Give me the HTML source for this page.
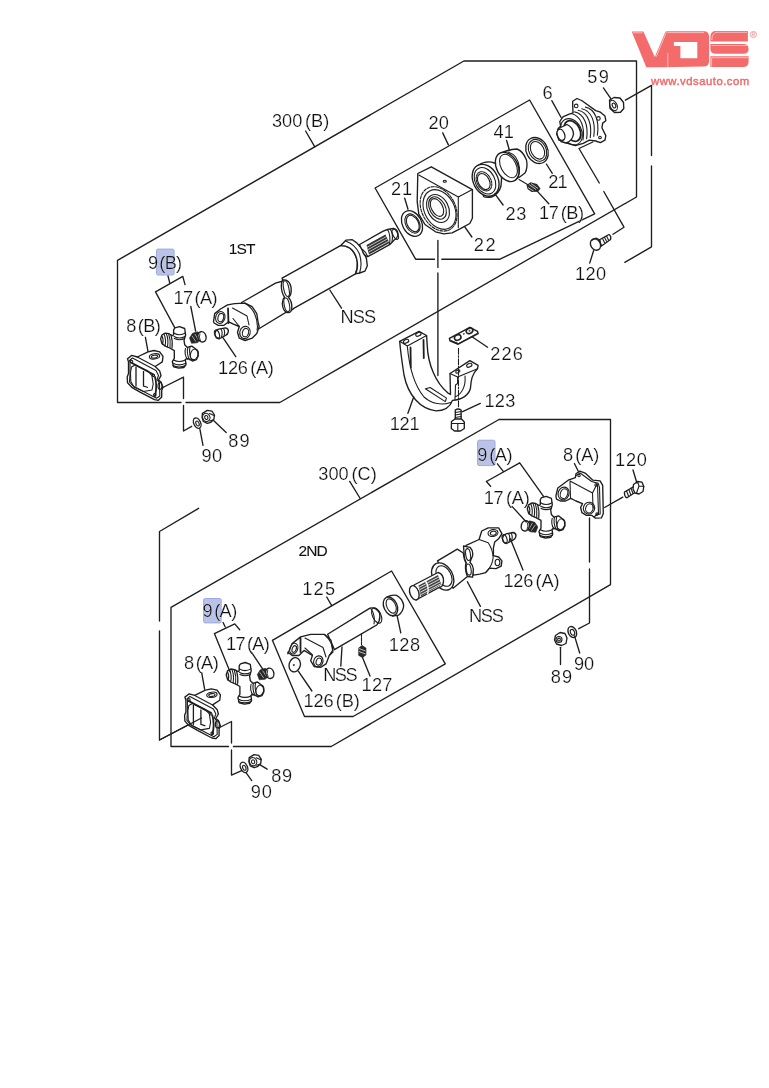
<!DOCTYPE html>
<html><head><meta charset="utf-8">
<style>
html,body{margin:0;padding:0;background:#fff;width:769px;height:1088px;overflow:hidden}
svg{position:absolute;left:0;top:0}
text{font-family:"Liberation Sans",sans-serif;fill:#111}
.t,.s{will-change:transform}
.s text{stroke:#111;stroke-width:0.1px}
.t text{stroke:#fff;stroke-width:0.2px}
.t{font-size:18.2px;letter-spacing:0.3px;word-spacing:-2.4px}
.s{font-size:15.5px;letter-spacing:-0.9px}
.ln{fill:none;stroke:#1e1e1e;stroke-width:1.35;stroke-linejoin:round;stroke-linecap:round}
.ln1{fill:none;stroke:#1e1e1e;stroke-width:1.1;stroke-linejoin:round;stroke-linecap:round}
.ln2{fill:none;stroke:#1e1e1e;stroke-width:1.8;stroke-linejoin:round;stroke-linecap:round}
.pt{fill:#fff;stroke:#1e1e1e;stroke-width:1.35;stroke-linejoin:round}
.hl{fill:#b9c3e8;stroke:#a0aade;stroke-width:1}
</style></head><body>
<svg width="769" height="1088" viewBox="0 0 769 1088">
<g fill="#f36b6b">
<path d="M631.7,31.6 L643.4,31.6 L654.8,57 L665.5,31.6 L668,31.2 L704,31.2 Q709.1,31.2 709.1,37 L709.1,61 Q709.1,66.6 703.5,66.6 L663.1,67.2 L646.3,67.2 Z M673.9,41.9 L697.3,41.9 L697.3,58.3 L680.4,58.3 L680.4,46.1 L673.9,46.1 Z" fill-rule="evenodd"/>
<path d="M716,30.9 L747.9,30.9 L747.9,41.6 L710.4,41.6 L710.4,36.6 Q710.4,30.9 716,30.9 Z"/>
<path d="M710.4,44.1 L743.5,44.1 Q748.6,44.1 748.6,49 Q748.6,53.8 743.5,53.8 L716,53.8 Q710.4,53.8 710.4,48.5 Z"/>
<path d="M710.4,56.3 L748.6,56.3 L748.6,61.5 Q748.6,67 743,67 L710.4,67 Z"/>
</g>
<g fill="none" stroke="#fff" stroke-width="0.6" opacity="0.9">
<path d="M633,32.8 L642.6,32.8"/>
<path d="M666.4,32 L656.1,56.9"/>
<path d="M667.5,32.6 L704,32.6"/>
<path d="M667.8,53 L667.8,67.2"/>
<path d="M681.6,47 L681.6,57 L696,57"/>
<path d="M711.8,40 Q712,32.5 717,32.3 L747,32.3 M711.6,45.5 L747,45.5 M711.5,57.7 L748,57.7 M711.6,58 L711.6,66.5"/>
</g>
<circle cx="753.4" cy="34.5" r="3.1" fill="none" stroke="#f36b6b" stroke-width="0.6"/>
<path d="M752.3,36.6 L752.3,32.6 L753.8,32.6 Q755,32.7 755,33.7 Q755,34.7 753.6,34.7 L752.3,34.7 M753.6,34.7 L755,36.6" fill="none" stroke="#f36b6b" stroke-width="0.5"/>
<g style="will-change:transform"><text x="651" y="85" font-size="11.3" style="fill:#ef6c6c;stroke:#ef6c6c;stroke-width:0.45px" textLength="98.2" lengthAdjust="spacing">www.vdsauto.com</text></g>
<g class="ln">
<path d="M117.5,402.5 L181,402.5 M186,402.5 L279.8,402.5 L636.5,197 L636.5,61 L463.9,61 L117.5,260.4 L117.5,402.5"/>
<path d="M625.4,100.2 L651.5,85.4 L651.5,155.6 M651.5,166 L651.5,246.8 L624.8,262.4"/>
<path d="M171,746.5 L171,607.3 L499,419.5 L610.5,419.5 L610.5,584.6 L331.2,746.5 L233.5,746.5 M228.5,746.5 L171,746.5"/>
<path d="M198.6,508.3 L159.5,531.5 L159.5,621 M159.5,631 L159.5,740 L199.7,718.9"/>
<path d="M500,259.2 L594.7,213.8 L529.6,100 L375.1,188 L415.6,259.2 L434.5,259.2 M441.8,259.2 L500,259.2"/>
<path d="M272.4,640.3 L391.6,571 L445.3,663.8 L353.1,716.5 L304.5,716.5 L272.4,640.3"/>
</g>
<!-- ===== 1ST section parts ===== -->
<defs>
<g id="cross">
<path class="pt" d="M173.6,329.8 L174.9,327.9 L179.5,326.6 L184.7,328.5 L185.6,335 L184,340.2 L184.7,344.8 L187.3,347.4 L191.8,346.1 L194.4,348 L197.7,351.3 L198.3,355.8 L196.4,359.7 L192.5,361 L189.2,359.1 L186.6,358.4 L185.3,359.7 L186,364.3 L184,367.5 L178.8,368.2 L173.6,366.9 L172.3,361.7 L174.3,358.4 L174.3,350.6 L169.7,348 L165.2,346.1 L161.9,343.5 L160.6,338.9 L161.9,335 L165.2,333.1 L169.1,333.7 L172.3,335.7 L173.6,335 Z"/>
<path class="ln1" d="M173.8,333 Q179.5,336.5 185.4,333 M174,336.5 Q179.5,339.5 185,336.5 M174.3,338.6 Q179.5,341 184.6,338.6"/>
<path class="ln1" d="M164,334 Q166.5,340 165,345.8 M166.3,333.5 Q168.8,340 167.5,346.8 M168.6,333.8 Q171,340.5 170,347.5 M170.8,334.8 Q173,341 172,348.3"/>
<path class="ln1" d="M185.5,348.5 Q184,354 187.3,359.3 M187.8,347.5 Q186.3,353.3 189.5,359.8 M190,346.8 Q188.5,353 191.8,360.5"/>
<ellipse class="ln1" cx="194.3" cy="354.3" rx="3.8" ry="5.4" transform="rotate(20 194.3 354.3)"/>
<path class="ln1" d="M173.5,360 Q179,363 185.5,360 M173,363.3 Q179,366.5 185.8,363.3 M172.8,365.5 Q179,368.5 185.8,365.5"/>
<path class="ln1" d="M162,336 Q164,340 162.5,344.5"/>
</g>
<g id="yokeB">
<path class="pt" d="M127.5,358.7 L131.8,355.4 L137.3,357 L148,351.8 L153.9,350.5 L159.7,351.8 L163,356.4 L162.3,361.9 L157.1,365.2 L155.2,366.5 L159.7,371 L161,375.6 L158.4,380.1 L161,382.1 L163,387.3 L161.7,390.5 L161.7,397 L158.4,400.3 L154.5,399.6 L139.6,391.8 L131.8,387.3 L127.5,382.7 L127.2,376.9 L128.5,373.6 L128.5,361.9 Z"/>
<path class="ln1" d="M129.5,360.5 L132.5,358 L156,370.5 L158.5,375.5 L157,379.5 L159.5,383 L159.8,396 L156.5,398.3 L133,386 L129.5,382 L130,374 L130,362 Z"/>
<ellipse class="ln1" cx="154.5" cy="356.4" rx="5.2" ry="2.6" transform="rotate(-8 154.5 356.4)"/>
<ellipse class="ln1" cx="154.5" cy="356.6" rx="3.2" ry="1.4" transform="rotate(-8 154.5 356.6)"/>
<path class="ln2" d="M131,362.5 L153.5,374.5"/>
<path class="ln1" d="M137.3,357 L155.2,366.5"/>
<path class="ln1" d="M131.5,367 L135,365 L148,371 L151.9,375.6 L153.2,384 L152,390 L143.5,391.5 L134,387 L130.8,381.4 L130.5,372.3 Z"/>
<path d="M136,366.5 L136,386.5 M143.5,371 L143.5,386 L148,387.5" fill="none" stroke="#1e1e1e" stroke-width="1.3"/>
<path class="ln2" d="M155,377 Q157.5,386 155,396"/>
<circle class="ln1" cx="154.8" cy="394.8" r="1.3"/>
<circle class="ln1" cx="131.5" cy="361.5" r="1.3"/>
<circle class="ln1" cx="153.5" cy="375.5" r="1.1"/>
<ellipse class="ln1" cx="160" cy="386" rx="2" ry="3.5"/>
</g>
<g id="nipple">
<path d="M189.5,338 L192.5,333.3 L197.5,331.8 L201,334 L200.7,340 L197.2,342.8 L191.5,343.3 Z" fill="#262626" stroke="#262626" stroke-width="0.6"/>
<path d="M192,335.8 L195.8,341.5 M194.8,334 L198.5,340" stroke="#fff" stroke-width="0.7" opacity="0.85"/>
<ellipse cx="202" cy="336.8" rx="4" ry="5.2" transform="rotate(-15 202 336.8)" fill="#fff" stroke="#1e1e1e" stroke-width="1.4"/>
<path d="M200,333.5 Q198.5,337 200.5,341" fill="none" stroke="#1e1e1e" stroke-width="0.9"/>
</g>
</defs>

<use href="#yokeB"/>
<use href="#cross"/>
<use href="#nipple"/>

<!-- pin 126(A) -->
<path class="pt" d="M214.9,333.5 Q215.5,330 218.5,329.2 L225.5,327.8 Q228.6,328.5 228.4,331.5 Q227.8,334.5 225.5,335.5 L219,338.8 Q215.2,338.5 214.9,333.5 Z"/>
<ellipse class="ln1" cx="217" cy="334" rx="2.2" ry="4.3" transform="rotate(-20 217 334)"/>
<path class="ln1" d="M221,329 Q223,332 221.5,337 M223.5,328.5 Q225.5,331.5 224,336"/>

<!-- shaft 1ST: yoke + tube -->
<path class="pt" d="M241.6,302.5 L275.5,283.2 L283,281 L291.5,309 L256.8,330 L250,325 Z"/>
<path class="pt" d="M213.5,321.8 L214.7,313.6 L220.5,309 L227.6,304.8 L234.6,303.7 L245.1,303.1 L252.1,306.6 L256.8,313.6 L258,321.8 L259.2,326.5 L256.8,333.5 L252.1,338.2 L245.1,340.5 L239.3,338.2 L237.5,332.3 L239.3,326.5 L233.4,324.2 L228.7,321.8 L224,325.3 L218.2,325.3 L214.1,323 Z"/>
<ellipse class="ln1" cx="220.3" cy="317.5" rx="4.6" ry="6" transform="rotate(15 220.3 317.5)"/>
<ellipse class="ln1" cx="220.8" cy="317.6" rx="2.8" ry="4.2" transform="rotate(15 220.8 317.6)"/>
<ellipse class="ln1" cx="245" cy="332.5" rx="5.2" ry="6.2" transform="rotate(15 245 332.5)"/>
<ellipse class="ln1" cx="245.5" cy="332.6" rx="3.1" ry="4.3" transform="rotate(15 245.5 332.6)"/>
<path class="ln2" d="M228,308.5 L228.5,323"/>
<path class="ln1" d="M232.5,308 L247,316 L249,325 M233,318.5 L239,326"/>
<path class="ln1" d="M244.5,303 Q257,310 257.5,327 L257,330"/>
<!-- break symbol at tube joint / main tube 2 -->
<path class="pt" d="M282.1,278.1 L340.5,245.7 C344.5,245.5 349,246.8 352.5,250.5 C358.5,258 358.5,268 355.5,273.8 L294.6,307.8 Q291,311 290.5,310 Z"/>
<path class="pt" d="M283.5,280 Q289,279 291,287 Q292,295 288.5,297.5 Q292,301 291.8,308 Q291.5,313.5 287,312.5 Q282.8,311 282.3,303.5 Q282.5,299 284.5,297 Q281.5,293 281.3,286 Q281.5,280.5 283.5,280 Z"/>
<ellipse class="ln1" cx="286.3" cy="288.6" rx="2.6" ry="8" transform="rotate(-12 286.3 288.6)"/>
<ellipse class="ln1" cx="286.8" cy="304.8" rx="2.6" ry="7" transform="rotate(-12 286.8 304.8)"/>
<!-- collar -->
<path class="pt" d="M340.5,245.7 L345.9,240.2 L352.3,239.7 L356.8,242.9 L362.3,249.3 L366.4,258.4 L367.3,265.7 L365,271.1 L359.6,273 L355.5,273.8 C358.5,268 358.5,258 352.5,250.5 C349,246.8 344.5,245.5 340.5,245.7 Z"/>
<path class="ln1" d="M345.5,241 Q355,244 359.5,254 Q362.5,264 359.6,273"/>

<!-- spline -->
<path class="pt" d="M359.5,244.5 L383.2,231.1 L387.5,229.5 L393.5,228.3 Q397.5,229 398,234 Q397.5,238.5 394,240.2 L389.6,244.7 L367.8,256.6 Q363.5,255.5 362.5,251 Z"/>
<path d="M366.5,245 L385.5,234.5 L389.5,243 L369,254.5 Z" fill="#333"/>
<path d="M367,247.3 L387,236.3 M368,249.6 L388,238.6 M369,251.9 L389,240.9" stroke="#fff" stroke-width="0.7"/>
<path class="ln1" d="M387.5,229.5 Q391,235 389.5,244.5 M390.3,229 Q393.5,234.5 392,242"/>
<ellipse class="ln1" cx="395.3" cy="234.3" rx="2.4" ry="5.4" transform="rotate(-25 395.3 234.3)"/>
<path class="ln1" d="M362.3,249.3 Q366,252 367.8,256.6"/>

<!-- ring 21 left -->
<ellipse class="pt" cx="412" cy="223.5" rx="9.6" ry="13.6" transform="rotate(-28 412 223.5)"/>
<ellipse class="ln1" cx="412.5" cy="223.5" rx="6.8" ry="10.2" transform="rotate(-28 412.5 223.5)"/>
<ellipse class="ln1" cx="412.8" cy="223.5" rx="5.6" ry="8.8" transform="rotate(-28 412.8 223.5)"/>

<!-- block 22 -->
<path class="pt" d="M417.8,173.5 L431.3,166.8 L472.4,189.6 L472.4,218.3 L469.8,223.5 L460.4,228.7 L452.1,232.8 L443.8,233.9 L435.5,231.8 L425,224.5 L418.8,214.1 L417.2,201.6 Z"/>
<path class="ln1" d="M418.8,175.1 L458.3,196.9 L472.4,189.6 M458.3,196.9 L458.3,227.6"/>
<ellipse class="ln1" cx="444.8" cy="181.3" rx="1.6" ry="1" />
<ellipse class="ln1" cx="438.6" cy="208.9" rx="16.8" ry="23.5" transform="rotate(-28 438.6 208.9)" stroke-dasharray="3 1.3"/>
<ellipse class="ln1" cx="439.5" cy="209.5" rx="15" ry="21" transform="rotate(-28 439.5 209.5)"/>
<ellipse class="ln1" cx="438" cy="208.5" rx="10.4" ry="14.8" transform="rotate(-28 438 208.5)"/>
<ellipse class="ln1" cx="437.5" cy="208" rx="7.8" ry="12" transform="rotate(-28 437.5 208)"/>
<ellipse class="ln1" cx="437" cy="207.5" rx="5.6" ry="9.6" transform="rotate(-28 437 207.5)"/>

<!-- bearing 23 -->
<path class="pt" d="M478,165.5 Q486,160 494.5,163 L497.5,164.5 Q503,170 501,186 Q499,194 491.5,197 Q486,198 483.5,196.5 Z"/>
<ellipse class="pt" cx="485.6" cy="180.3" rx="12.3" ry="16.8" transform="rotate(-28 485.6 180.3)"/>
<ellipse class="ln1" cx="485" cy="180.8" rx="9.8" ry="14" transform="rotate(-28 485 180.8)"/>
<ellipse class="ln1" cx="484" cy="181.3" rx="7" ry="10.2" transform="rotate(-28 484 181.3)" stroke-dasharray="2 1"/>
<ellipse class="ln1" cx="483.8" cy="181.5" rx="5.6" ry="8.6" transform="rotate(-28 483.8 181.5)"/>

<!-- ring 41 -->
<path class="pt" d="M498.5,155.5 Q503,151 512,149.5 L517,149 Q523,151 526.5,160 Q528,168 525,173 L519,177.5 Q512,181 509,181.5 Z"/>
<ellipse class="pt" cx="507.2" cy="166.9" rx="10.6" ry="15.6" transform="rotate(-28 507.2 166.9)"/>
<ellipse class="ln1" cx="508.5" cy="166" rx="7.6" ry="12.6" transform="rotate(-28 508.5 166)"/>
<path class="ln1" d="M508,152 Q518,155 519.5,168 Q520,176 515.5,180"/>

<!-- ring 21 right -->
<ellipse class="pt" cx="537" cy="150.5" rx="10.6" ry="13.6" transform="rotate(-28 537 150.5)"/>
<ellipse class="ln1" cx="537.5" cy="150.3" rx="8.6" ry="11.4" transform="rotate(-28 537.5 150.3)"/>
<ellipse class="ln1" cx="537.5" cy="150.3" rx="6.4" ry="9.4" transform="rotate(-28 537.5 150.3)"/>

<!-- nipple 17(B) -->
<path d="M526.5,185 L530.5,182.3 L537,184 L540.5,188.5 L538,191.8 L531.5,192 L527.5,189 Z" fill="#2a2a2a"/>
<path d="M529,184.5 L536,189.5 M531,183.5 L538,188.5 M528,187.5 L533.5,191" stroke="#fff" stroke-width="0.7"/>
<path class="ln1" d="M519,179.5 L527.5,184.5"/>

<!-- part 6 -->
<path class="pt" d="M572.7,101.2 L577,98.5 L581.6,100.5 L584.8,102.8 L595.7,110.6 L600.4,112.2 L605,116.1 L605.8,120.7 L602.7,123.1 L601.9,127.8 L605.8,135.6 L605,140.2 L600.4,142.6 L595.7,141 L589.4,140.2 L583.2,143.4 L575.4,145.7 L567.6,143.4 L564.5,141.8 L559,140.2 L556.7,134 L558.2,128.5 L560.6,126.2 L559.8,121.5 L562.9,116.8 L569.2,114.1 L573.1,112.9 L572.7,106.7 Z"/>
<circle class="ln1" cx="576.2" cy="105.9" r="1.8"/>
<circle class="ln1" cx="598.4" cy="118.4" r="1.8"/>
<circle class="ln1" cx="600" cy="137.5" r="1.3"/>
<path class="ln1" d="M571.0,113.5 C581.0,115.5 585.0,127.5 583.0,140.0 M574.6,111.9 C584.6,113.9 588.6,125.9 586.6,138.8 M578.2,110.3 C588.2,112.3 592.2,124.3 590.2,137.6 M581.8,108.7 C591.8,110.7 595.8,122.7 593.8,136.4 M585.4,107.1 C595.4,109.1 599.4,121.1 597.4,135.2"/>
<ellipse class="ln1" cx="571.5" cy="131.7" rx="10" ry="13.8" transform="rotate(-28 571.5 131.7)"/>
<ellipse class="ln2" cx="572.5" cy="131" rx="7.4" ry="11" transform="rotate(-28 572.5 131)"/>
<path class="pt" d="M558.5,128.5 L567,124.5 Q573,127 573.5,134 Q572.5,141 566,143 L561,141.5 Z"/>
<ellipse class="pt" cx="561" cy="134.8" rx="3.6" ry="5.8" transform="rotate(-20 561 134.8)"/>

<!-- nut 59 -->
<path class="pt" d="M609.5,100 L614,97.5 L620,98 L623.5,102.5 L623.8,108.5 L620.5,112.3 L614.5,112.5 L610,108.5 Z"/>
<ellipse class="ln1" cx="613.5" cy="105.5" rx="3.5" ry="5.5" transform="rotate(-25 613.5 105.5)"/>
<ellipse class="ln1" cx="614" cy="105.5" rx="1.6" ry="2.6" transform="rotate(-25 614 105.5)"/>

<!-- bolt 120 (1ST) -->
<path class="pt" d="M599,240 L609,234.5 Q611.5,236 610.5,239.5 L601.5,246 Z"/>
<path class="ln1" d="M602.5,238.5 L604.5,242.5 M604.5,237.3 L606.5,241.3 M606.5,236.1 L608.5,240.1"/>
<ellipse class="pt" cx="595.5" cy="244.5" rx="4.8" ry="6" transform="rotate(-30 595.5 244.5)"/>
<path class="ln1" d="M591.5,240.5 L596,238 L600,240 L601,245.5"/>

<!-- bracket 121 -->
<path class="pt" d="M399.7,341.3 L419,331.4 L426.6,335.5 L427.2,345.4 C428,365 436,383 447.7,392.8 L450.5,394.5 L450,373.5 L469.9,360.6 L478.1,365.3 L477.5,368.8 C472,374 471,380 470.5,388 C469,395 462,400 452.4,400.4 C450,407 444,410.8 436,410.8 C420,409 408,395 404,375 C402,362 400.5,352 399.7,341.3 Z"/>
<path class="ln1" d="M399.7,341.3 L407.3,346 L426.6,335.5 M407.3,346 C409,365 414,385 424,397 C432,404 442,405.5 450.5,402.5"/>
<path class="ln1" d="M450,373.5 L457.6,377 L477.5,368.8 M457.6,377 L457.6,383.5 L455.5,385 L455,399.5 M465,376 C466,386 462,394 455,397"/>
<path class="ln2" d="M410.5,347.5 L410.8,367.5 M423.5,340 L423.8,358"/>
<path class="ln1" d="M425.4,388.7 L430.1,387.5 L446.5,398.1 L445.3,401.6 Z"/>
<ellipse class="ln1" cx="406.1" cy="341.3" rx="2.8" ry="1.7" transform="rotate(-25 406.1 341.3)"/>
<ellipse class="ln1" cx="418.4" cy="334.3" rx="2.8" ry="1.7" transform="rotate(-25 418.4 334.3)"/>
<ellipse class="ln1" cx="469.3" cy="365.3" rx="2.8" ry="1.7" transform="rotate(-25 469.3 365.3)"/>
<ellipse class="ln1" cx="457.8" cy="371.5" rx="2.2" ry="1.4" transform="rotate(-25 457.8 371.5)"/>
<!-- plate 226 -->
<path d="M449.4,338.4 L469.9,327.3 L477.5,331.4 L478.1,333.7 L458.2,344.2 L450,340.7 Z" fill="#fff" stroke="#1e1e1e" stroke-width="1.5" stroke-linejoin="round"/>
<path d="M451,340.5 L458.5,343.5 L477,333.5" fill="none" stroke="#1e1e1e" stroke-width="0.9"/>
<ellipse cx="457.7" cy="337.5" rx="3.4" ry="2.6" fill="none" stroke="#222" stroke-width="1.6" transform="rotate(-25 457.7 337.5)"/>
<ellipse cx="469.5" cy="330.8" rx="3.4" ry="2.6" fill="none" stroke="#222" stroke-width="1.6" transform="rotate(-25 469.5 330.8)"/>
<circle cx="469.5" cy="330.8" r="1" fill="#555"/>
<path d="M463.2,334.3 L464.5,333.5" stroke="#222" stroke-width="1.4"/>
<!-- bolt 123 -->
<path class="pt" d="M455.3,410 Q458.2,408 461.1,410 L461.1,420.3 L455.3,420.3 Z"/>
<path class="ln1" d="M455.3,412.5 L461.1,411.5 M455.3,415 L461.1,414 M455.3,417.5 L461.1,416.5"/>
<path class="pt" d="M451.5,421.5 L455,419 L461.5,419 L464.3,422 L464.3,428.5 L460.5,431 L454.5,431 L451.3,428.5 Z"/>
<path class="ln1" d="M451.5,423.5 L464,423.5 M457.8,423.5 L457.8,431"/>

<!-- washer 90 / nut 89 (1ST) -->
<ellipse class="pt" cx="197.2" cy="423.1" rx="3.4" ry="5.4" transform="rotate(-25 197.2 423.1)"/>
<ellipse class="ln1" cx="197.5" cy="423.5" rx="1.5" ry="2.6" transform="rotate(-25 197.5 423.5)"/>
<path class="pt" d="M202.4,413.3 L207.3,410.4 L211.9,411.1 L214.5,415 L213.8,419.5 L210.6,422.4 L207.3,423.4 L203.4,421.5 L202.1,417.6 Z"/>
<ellipse class="ln1" cx="206.3" cy="417.4" rx="3.6" ry="4.2" transform="rotate(-20 206.3 417.4)"/>
<ellipse class="ln1" cx="206.3" cy="417.5" rx="1.6" ry="2" transform="rotate(-20 206.3 417.5)"/>
<path class="ln1" d="M209.5,413.5 L214,415.5 M209.8,421 L213.5,419.8"/>
<!-- ===== 2ND section parts ===== -->
<!-- yoke 8(A) right -->
<path class="pt" d="M555.9,495.8 L557.8,488 L568.2,480.2 L575.4,477.6 L576,473.7 L579.9,471.1 L585.1,473.1 L592.9,480.2 L600.1,480.9 L602.7,485.4 L603.3,513.4 L601.4,517.9 L595.5,518.2 L591.6,515.3 L586.4,515.3 L581.9,512.7 L580.6,507.5 L582.5,503.6 L576,501 L570.8,498.4 L565.6,501 L560.4,501 L556.5,499.1 Z"/>
<ellipse class="ln1" cx="563.6" cy="493.4" rx="5.4" ry="6.4" transform="rotate(20 563.6 493.4)"/>
<ellipse class="ln1" cx="564" cy="493.6" rx="3.6" ry="5" transform="rotate(20 564 493.6)"/>
<ellipse class="ln1" cx="589" cy="508.2" rx="5.6" ry="6" transform="rotate(20 589 508.2)"/>
<ellipse class="ln1" cx="589.4" cy="508.4" rx="3.7" ry="4.6" transform="rotate(20 589.4 508.4)"/>
<path class="ln1" d="M576.1,475.6 L580,473 L591.7,481.5 L598.2,483.4 L599.5,487.3 L600.2,514 L595.6,515.3"/>
<path class="ln1" d="M570,481 L592.5,493 L597,484 M592.5,493 L593,508 M570,481 L570.5,498 M597.5,485 L598.5,513.5 L594,517"/>
<circle class="ln1" cx="579" cy="475.5" r="1.2"/><circle class="ln1" cx="596" cy="485" r="1.2"/><circle class="ln1" cx="597" cy="514" r="1.1"/>
<!-- bolt 120 right -->
<path class="pt" d="M624.5,492 L633,487 Q636,489 635,492.5 L627,497.8 Q624,497 624.5,492 Z"/>
<path class="ln1" d="M626.5,490.8 L628.5,496 M628.8,489.5 L630.8,494.8 M631,488.3 L633,493.5"/>
<path class="pt" d="M633.5,484.5 L637.5,481.5 L642,482.2 L643.8,486.5 L643,491.5 L639,494 L635,493 L633,489 Z"/>
<path class="ln1" d="M637.5,481.5 L639,486 L643.8,486.5 M639,486 L636.5,493"/>

<use href="#cross" transform="translate(366.7,169.8)"/>
<use href="#nipple" transform="translate(727.3,189) scale(-1,1)"/>
<g transform="translate(287.6,204.7)">
<path class="pt" d="M214.9,333.5 Q215.5,330 218.5,329.2 L225.5,327.8 Q228.6,328.5 228.4,331.5 Q227.8,334.5 225.5,335.5 L219,338.8 Q215.2,338.5 214.9,333.5 Z"/>
<ellipse class="ln1" cx="217" cy="334" rx="2.2" ry="4.3" transform="rotate(-20 217 334)"/>
<path class="ln1" d="M221,329 Q223,332 221.5,337 M223.5,328.5 Q225.5,331.5 224,336"/>
</g>

<!-- 2ND shaft: slip yoke -->
<path class="pt" d="M479.1,539.5 L481.7,531 L488.2,527.8 L498.6,527.8 L501.9,533.6 L498.6,538.8 L494.7,542.1 L493.4,547.9 L493.4,555.7 L498.6,557 L501.9,560.9 L501.2,566.1 L496,568.7 L489.5,568.1 L485.6,572.6 L479.8,574.2 L473.3,575.2 L466.1,545.3 Z"/>
<ellipse class="ln1" cx="493" cy="533" rx="5" ry="3.4" transform="rotate(-10 493 533)"/>
<ellipse class="ln1" cx="493.3" cy="533.2" rx="3" ry="2" transform="rotate(-10 493.3 533.2)"/>
<path class="ln1" d="M479.1,539.5 L488.2,542.7 Q492.5,549 493.2,557 Q492.5,566 485.6,572.6"/>
<ellipse class="ln1" cx="497.5" cy="562.5" rx="2.4" ry="3.2"/>
<path class="pt" d="M463.5,546 L470,547.3 Q473.5,551 472.6,555.7 Q471,559.5 470,562.2 Q473.8,566 473.3,570 L472.6,577.2 L467.4,576.5 Q464.5,574 464.8,570 Q465.5,565 466.1,562.2 Q463.8,558 464.2,554.4 Z"/>
<ellipse class="ln1" cx="468.1" cy="554.6" rx="2.4" ry="6" transform="rotate(-8 468.1 554.6)"/>
<ellipse class="ln1" cx="468.7" cy="569.6" rx="2.4" ry="5.6" transform="rotate(-8 468.7 569.6)"/>
<!-- slip tube -->
<path class="pt" d="M437.5,560.9 L457.3,549.1 L463.3,553 Q464,560 466,563 Q464.5,570 467.4,576.5 L453.1,588.2 Z"/>
<ellipse class="pt" cx="442.7" cy="576.5" rx="10" ry="14.5" transform="rotate(-28 442.7 576.5)"/>
<ellipse class="ln1" cx="444" cy="576" rx="7" ry="11" transform="rotate(-28 444 576)"/>
<!-- spline -->
<path class="pt" d="M414,585 L438,572.5 Q444,574 443.5,582 Q442,588 440.1,586.9 L416,600 Z"/>
<path d="M418.5,585.5 L438,575 L441.5,584.5 L421,596.5 Z" fill="#444"/>
<path d="M418.8,587.5 L439,576.8 M419.5,589.8 L440,579 M420.3,592.2 L441,581.3 M421,594.5 L441.5,583.5" stroke="#fff" stroke-width="0.8"/>
<path d="M425.5,581 Q429.5,587 427.5,594.5" fill="none" stroke="#fff" stroke-width="1.4"/>
<ellipse class="pt" cx="414.3" cy="592.8" rx="4.4" ry="7.4" transform="rotate(-20 414.3 592.8)"/>

<!-- box 125 contents: yoke shaft -->
<path class="pt" d="M327.6,634.3 L369.9,608.1 Q376,607 379.5,613 Q381,620 376.7,625 L334.4,649.6 Z"/>
<ellipse class="ln1" cx="376.7" cy="615.5" rx="4.2" ry="8.2" transform="rotate(-25 376.7 615.5)"/>
<path class="ln1" d="M370.5,608.5 Q375.5,614 374,624"/>
<path class="pt" d="M287.9,653.8 L292.1,643.6 L300.6,636.9 L310.7,634.3 L324.3,634.3 L331,640.3 L332.7,650.4 L329.3,655.5 L326,663.9 L320.9,667.3 L314.1,666.5 L310.7,660.6 L312.4,655.5 L304,650.4 L298.9,655.5 L292.1,655.5 L287.9,652.1 Z"/>
<ellipse class="ln1" cx="293.8" cy="648.7" rx="3.8" ry="5.5" transform="rotate(20 293.8 648.7)"/>
<ellipse class="ln1" cx="294.2" cy="649" rx="2" ry="3.4" transform="rotate(20 294.2 649)"/>
<ellipse class="ln1" cx="318.3" cy="661.4" rx="4.6" ry="5.6" transform="rotate(20 318.3 661.4)"/>
<ellipse class="ln1" cx="318.8" cy="661.6" rx="2.6" ry="3.6" transform="rotate(20 318.8 661.6)"/>
<path class="ln2" d="M300.5,638 L300.5,652"/>
<path class="ln1" d="M305,638 L323,647.5 L326,657 M305,648 L312.5,655"/>
<path class="ln1" d="M324.5,634.5 Q333,642 333,652 L329.3,655.5"/>
<!-- cap 126(B) -->
<ellipse class="pt" cx="294.7" cy="664.8" rx="5.6" ry="7.2" transform="rotate(15 294.7 664.8)"/>
<circle cx="293.8" cy="665" r="1" fill="#333"/>
<!-- nipple 127 -->
<path d="M358.3,648 L362,645 L366.3,648 L366.3,655 L362.5,658 L358.3,655.5 Z" fill="#2a2a2a"/>
<path d="M359,648.5 L365.5,651 M359,651.5 L365.5,654" stroke="#fff" stroke-width="0.7"/>
<!-- ring 128 -->
<path class="pt" d="M387.2,596.8 Q391.5,594.5 396.6,595.3 Q402.5,598.5 403.7,605.3 Q403.5,611.5 398.5,615.2 L392.5,616 Z"/>
<ellipse class="pt" cx="390.5" cy="606.3" rx="6.6" ry="9.8" transform="rotate(-25 390.5 606.3)"/>
<ellipse class="ln1" cx="391.2" cy="606" rx="4.4" ry="7.6" transform="rotate(-25 391.2 606)"/>
<!-- washer 90 / nut 89 right -->
<ellipse class="pt" cx="572.3" cy="632" rx="4" ry="5.8" transform="rotate(-25 572.3 632)"/>
<ellipse class="ln1" cx="572.5" cy="632.3" rx="2" ry="3" transform="rotate(-25 572.5 632.3)"/>
<path class="pt" d="M555.5,635.5 L560,632.5 L565,633.5 L567,638 L566,643.5 L561.5,645.5 L556.5,644 L554.5,640 Z"/>
<circle class="ln1" cx="559" cy="639.5" r="3"/>
<circle class="ln1" cx="559" cy="639.5" r="1.4"/>

<!-- left group -->
<use href="#yokeB" transform="translate(57.4,338.4)"/>
<use href="#cross" transform="translate(65.6,335.9)"/>
<use href="#nipple" transform="translate(67.8,336.5)"/>
<g transform="translate(46.8,344.3)">
<ellipse class="pt" cx="197.2" cy="423.1" rx="3.4" ry="5.4" transform="rotate(-25 197.2 423.1)"/>
<ellipse class="ln1" cx="197.5" cy="423.5" rx="1.5" ry="2.6" transform="rotate(-25 197.5 423.5)"/>
<path class="pt" d="M202.4,413.3 L207.3,410.4 L211.9,411.1 L214.5,415 L213.8,419.5 L210.6,422.4 L207.3,423.4 L203.4,421.5 L202.1,417.6 Z"/>
<ellipse class="ln1" cx="206.3" cy="417.4" rx="3.6" ry="4.2" transform="rotate(-20 206.3 417.4)"/>
<ellipse class="ln1" cx="206.3" cy="417.5" rx="1.6" ry="2" transform="rotate(-20 206.3 417.5)"/>
<path class="ln1" d="M209.5,413.5 L214,415.5 M209.8,421 L213.5,419.8"/>
</g>
<!-- ===== leader lines ===== -->
<g class="ln">
<path d="M159.5,740 L201.5,718"/>
<path d="M305.6,131 L314.8,146.9"/>
<path d="M442.7,132.9 L448.4,144.9"/>
<path d="M506.6,140.5 L509.5,150.5"/>
<path d="M546.4,164 L552.3,173.3"/>
<path d="M494.9,193.8 L503.1,205"/>
<path d="M537,190.9 L548.8,203.7"/>
<path d="M404.7,198.2 L408,209.2"/>
<path d="M464.6,226.6 L471.9,237"/>
<path d="M603.4,87.9 L611,98.9"/>
<path d="M551.8,100.6 L561.1,117.5"/>
<path d="M592.8,142 L579,148.5 L599.3,183 M603.8,191.5 L624,227.2 L613,234.3"/>
<path d="M593.6,250.7 L589.7,263.1"/>
<path d="M167.9,275.5 L169.7,282.8 M174.6,327.4 L155.5,291.9 L182.8,276.4 L185,284.6"/>
<path d="M190.8,306.5 L195.6,331"/>
<path d="M145.4,337.3 L148,351.4"/>
<path d="M161.8,388 L183.5,377.1 L183.5,398.5 M183.5,405.5 L183.5,431 L191.7,426.3"/>
<path d="M222.9,337.6 L235.8,356.7"/>
<path d="M329.8,290 L341.5,308.2"/>
<path d="M437.9,240.4 L437.9,267.5 M437.9,273 L437.9,375.5"/>
<path d="M472,336.8 L487.6,347.2"/>
<path d="M462.6,411.7 L480.3,403.4"/>
<path d="M413.7,396.9 L407.9,413.3"/>
<path d="M213.8,420.8 L226.2,432.5"/>
<path d="M199.8,428.6 L203,445.3"/>
<path d="M349.7,481.4 L360.2,498.5"/>
<path d="M497.4,463.8 L503.1,471.1 M486.4,481.5 L519.7,462.8 L543.7,496.6 M486.4,481.5 L490.6,486.2"/>
<path d="M574.4,463.5 L578.3,471.3"/>
<path d="M633,470 L636.9,483"/>
<path d="M604.6,507.5 L622.8,497.1"/>
<path d="M589.5,518 L589.5,562 M589.5,569 L589.5,623 L578.8,628.7"/>
<path d="M512,506.4 L526.3,522"/>
<path d="M510.2,538.6 L523,570"/>
<path d="M467.4,581.7 L480.4,606.4"/>
<path d="M560.5,647.3 L560.5,664.5"/>
<path d="M574.5,635.9 L579.7,653"/>
<path d="M326.7,597 L331.7,605.7"/>
<path d="M397.1,615.6 L400.8,632.9"/>
<path d="M362.5,657.6 L370,676"/>
<path d="M342,647 L340.8,666"/>
<path d="M298.3,671.2 L311.9,691"/>
<path d="M223.1,622.5 L225.1,626.8 M230,671.7 L214.4,633.6 L234.8,623.9 L239.7,629.7"/>
<path d="M251.4,652.2 L263.1,669.7"/>
<path d="M201.7,672.6 L204.6,689.2"/>
<path d="M218.6,728 L231.5,721.5 L231.5,743 M231.5,750 L231.5,775.1 L241.7,770.7"/>
<path d="M260.5,765.2 L267.2,769.1"/>
<path d="M246.2,772.9 L251.7,780.6"/>
</g>
<path class="ln1" d="M458.5,348.3 L458.5,407.4" stroke-dasharray="6 1.5 1.5 1.5"/>
<path class="ln1" d="M361.5,634 L361.5,644.5" stroke-dasharray="3 1"/>
<!-- highlight boxes -->
<rect class="hl" x="156.4" y="249.1" width="17.7" height="25.9" rx="1.5"/>
<rect class="hl" x="477.6" y="440.2" width="17.4" height="25.4" rx="1.5"/>
<rect class="hl" x="203.6" y="598.5" width="17.6" height="24.4" rx="1.5"/>
<g class="t">
<text letter-spacing="0.00" transform="translate(272.0,127.4) scale(1.0,1)">300 (B)</text>
<text transform="translate(428.4,129.4) scale(1.0,1)">20</text>
<text letter-spacing="0.00" transform="translate(493.6,137.5) scale(1.0,1)">41</text>
<text transform="translate(542.4,98.9) scale(1.0,1)">6</text>
<text letter-spacing="1.40" transform="translate(587.2,82.8) scale(1.0,1)">59</text>
<text letter-spacing="-0.80" transform="translate(548.2,187.8) scale(1.0,1)">21</text>
<text letter-spacing="0.80" transform="translate(505.4,220) scale(1.0,1)">23</text>
<text letter-spacing="-0.45" transform="translate(539.1,218.8) scale(1.0,1)">17 (B)</text>
<text letter-spacing="0.80" transform="translate(391.0,195) scale(1.0,1)">21</text>
<text letter-spacing="1.60" transform="translate(473.8,251.4) scale(1.0,1)">22</text>
<text letter-spacing="0.40" transform="translate(575.0,280.2) scale(1.0,1)">120</text>
<text letter-spacing="-0.73" transform="translate(148.0,269.1) scale(1.0,1)">9 (B)</text>
<text letter-spacing="-0.65" transform="translate(173.6,303.7) scale(1.0,1)">17 (A)</text>
<text letter-spacing="-0.60" transform="translate(126.3,332) scale(1.0,1)">8 (B)</text>
<text letter-spacing="-0.90" transform="translate(340.5,322.5) scale(1.0,1)">NSS</text>
<text letter-spacing="-0.24" transform="translate(218.1,374.3) scale(1.0,1)">126 (A)</text>
<text letter-spacing="1.10" transform="translate(490.2,359.8) scale(1.0,1)">226</text>
<text letter-spacing="0.20" transform="translate(484.5,406.5) scale(1.0,1)">123</text>
<text letter-spacing="-0.30" transform="translate(389.8,430.4) scale(1.0,1)">121</text>
<text letter-spacing="1.00" transform="translate(228.3,446.9) scale(1.0,1)">89</text>
<text letter-spacing="0.40" transform="translate(201.4,461.5) scale(1.0,1)">90</text>
<text letter-spacing="0.04" transform="translate(318.3,480.2) scale(1.0,1)">300 (C)</text>
<text letter-spacing="-0.40" transform="translate(477.2,460.9) scale(1.0,1)">9 (A)</text>
<text letter-spacing="-0.20" transform="translate(483.7,503.8) scale(1.0,1)">17 (A)</text>
<text letter-spacing="-0.20" transform="translate(563.0,461) scale(1.0,1)">8 (A)</text>
<text letter-spacing="0.80" transform="translate(615.0,466.1) scale(1.0,1)">120</text>
<text letter-spacing="-0.20" transform="translate(503.4,587.3) scale(1.0,1)">126 (A)</text>
<text letter-spacing="-1.30" transform="translate(469.0,621.6) scale(1.0,1)">NSS</text>
<text letter-spacing="1.20" transform="translate(550.8,682.5) scale(1.0,1)">89</text>
<text letter-spacing="-0.20" transform="translate(574.0,670.4) scale(1.0,1)">90</text>
<text letter-spacing="1.30" transform="translate(302.2,594.6) scale(1.0,1)">125</text>
<text letter-spacing="0.50" transform="translate(388.7,651.4) scale(1.0,1)">128</text>
<text transform="translate(361.5,691) scale(1.0,1)">127</text>
<text letter-spacing="-1.50" transform="translate(323.2,681.1) scale(1.0,1)">NSS</text>
<text letter-spacing="-0.16" transform="translate(303.5,707) scale(1.0,1)">126 (B)</text>
<text letter-spacing="-0.60" transform="translate(202.6,617) scale(1.0,1)">9 (A)</text>
<text letter-spacing="-0.65" transform="translate(226.0,650.2) scale(1.0,1)">17 (A)</text>
<text letter-spacing="-0.60" transform="translate(184.1,668.7) scale(1.0,1)">8 (A)</text>
<text letter-spacing="0.80" transform="translate(271.2,781.5) scale(1.0,1)">89</text>
<text letter-spacing="0.80" transform="translate(250.8,797.6) scale(1.0,1)">90</text>
</g>
<g class="s">
<text x="228.8" y="254.1">1ST</text>
<text x="298.6" y="556.3">2ND</text>
</g>
</svg>
</body></html>
